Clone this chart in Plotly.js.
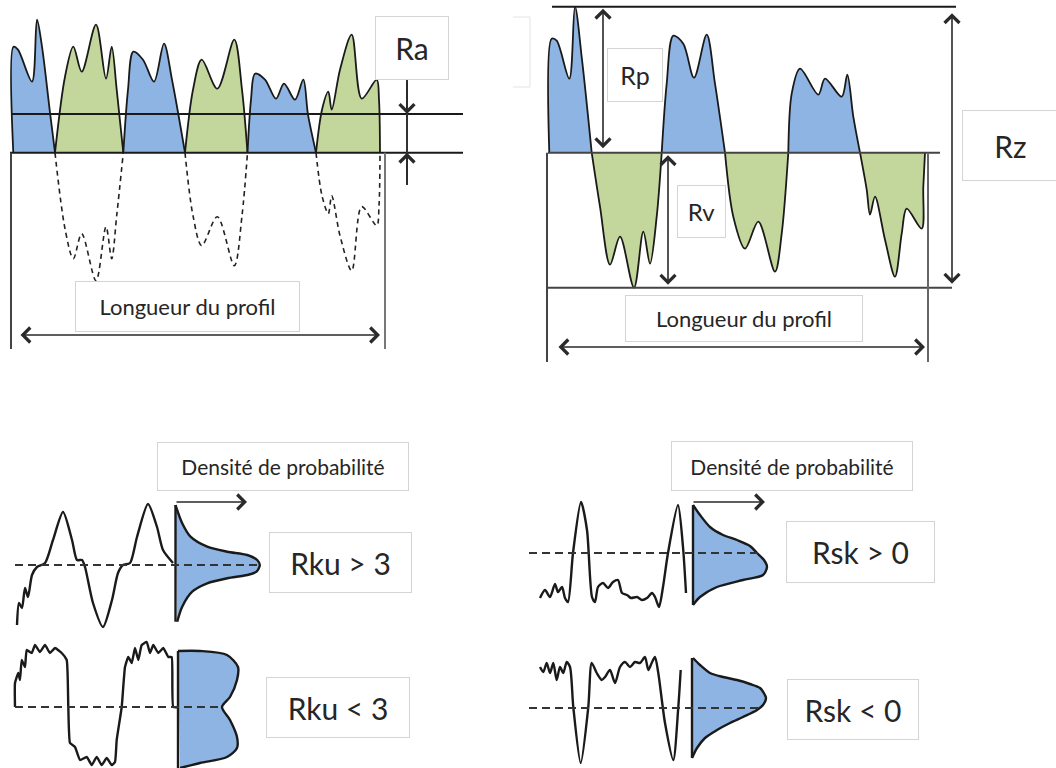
<!DOCTYPE html>
<html><head><meta charset="utf-8">
<script src="https://cdn.plot.ly/plotly-3.0.1.min.js"></script>
<style>html,body{margin:0;padding:0;background:#fff;}#chart{width:1056px;height:768px;}</style>
</head><body><div id="chart"></div>
<script>
// ---------- DATA (profile positions along length, signed heights) ----------
// Ra profile (signed heights; negative parts are the folded-up valleys)
const raX = [2.3,2.5,7,21,26,31,39,44,54,62.3,70.7,85,95,100.7,105.7,112.3,117,122.3,132,143,153,161,174,182,190.7,206.3,223.3,231,236.5,240,244,254,265,273,284,292.3,297,305,311,317.3,320.7,329,340.7,350.7,365.7,368,369];
const raH = [0,106,103,71,133,106,40,0,-76,-106,-81,-128,-74,-106,-63,0,63,101,93,71,109,73,0,-63,-93,-64,-113,-63,0,53,79,73,54,69,53,73,38,0,-43,-61,-43,-83,-118,-54,-73,-53,0];
const raValue = 38.7;

// Rz profile
const rzX = [2.3,4.7,9.7,22.3,28,35,44.7,53,63,73,87,96.3,103,109.7,114.7,119.7,126.3,136.3,147,159.7,168,178,186.3,198,211.3,228,234.7,241.3,244.7,253,271.3,278,294.7,300.3,306.3,313,319.7,323,328,338,348,354.7,359.7,374.7,376.3,378];
const rzH = [0,114,112,74,146,93,0,-54,-112,-84,-135,-79,-111,-64,0,69,117,109,75,118,69,0,-64,-96,-69,-119,-81,0,59,84,58,74,56,78,36,0,-37,-62,-44,-87,-124,-81,-56,-76,-34,0];

// Kurtosis profiles and densities
const kuHighX = [2,4,7,10,13,17,22,30,38,48,57,62,67,70,78,88,97,103,108,115,122,133,142,148,158];
const kuHighH = [-60,-38,-43,-23,-32,-10,-2,2,25,53,25,5,5,-2,-38,-62,-35,-8,0,2,28,61,38,15,2];
const kuHighDensH = [60,41.7,28.3,18.3,13.3,10,5,0,-6.7,-10,-13.3,-18.3,-26.7,-41.7,-56.7];
const kuHighDensD = [0,6.7,15,31.7,51.7,71.7,81.7,84.3,81,71.7,51.7,31.7,16.7,6.7,1.7];

const kuLowX = [0,0,3.3,5,6.7,10,11.7,16.7,20,25,30,35,40,46.7,51.7,53.3,55,60,65,71.7,76.7,81.7,86.7,91.7,96.7,100,101.7,106.7,110,113.3,116.7,120,123.3,126.7,131.7,135,138.3,143.3,148.3,153.3,156.7,158.3,165];
const kuLowH = [0,24,34,27,47,40,57,54,62,55,62,54,59,54,47,0,-36,-40,-53,-50,-58,-50,-58,-51,-58,-55,-33,0,40,50,44,59,47,62,65,54,62,54,59,50,50,0,0];
const kuLowDensH = [56,56,52,40,27,10,0,-13,-30,-41,-50,-56,-61];
const kuLowDensD = [0,22,49,60,59,52,44,52,59,59,49,22,2];

// Skewness profiles and densities
const skPosX = [11,16,21,26,29,33,36,39,44,52,58,63,66,69,74,79,84,89,93,98,102,108,113,118,123,126,130,134,139,149,154,157];
const skPosH = [-45,-37,-44,-31,-39,-34,-45,-49,0,51,23,-44,-49,-34,-30,-35,-29,-27,-40,-42,-45,-44,-47,-45,-40,-44,-54,-34,0,48,6,-40];
const skPosDensH = [48,38,26,18,13,7,0,-7,-14,-22,-27,-34,-44,-52];
const skPosDensD = [0,7,17,30,44,57,64,71,74,70,50,24,7,0];

const skNegX = [11,14.3,17.7,21,24.3,27.7,31,34.3,37.7,41,44.3,51.7,59.3,62.7,67.7,72.7,76,81,86,91,96,101,106,111,116,119.3,122.7,126,129.3,136,144.3,149.3,151.7];
const skNegH = [41,36,45,35,45,28,41,35,46,41,1,-55,1,45,35,28,31,38,25,41,46,41,46,45,51,38,45,51,35,-15,-52,1,38];
const skNegDensH = [50,43,35,31,28,24,20,10,3,-2,-9,-15,-22,-30,-40,-50];
const skNegDensD = [1,8,18,31,45,58,68,74,71,65,51,38,25,13,5,0];

// Labels
const labels = {ra:'Ra', rp:'Rp', rv:'Rv', rz:'Rz', len:'Longueur du profil', dens:'Densité de probabilité',
  kuHigh:'Rku > 3', kuLow:'Rku < 3', skPos:'Rsk > 0', skNeg:'Rsk < 0'};

// ---------- LAYOUT / STYLE ----------
const BLUE = '#8db4e2', GREEN = '#c3d69b', INK = '#1a1a1a';
const FONT = 'Lato, "Open Sans", sans-serif', TXT = '#262626';
const RA = {x0: 11, y0: 152.7};
const RZ = {x0: 547, y0: 152.7};
const KU_H = {x0: 15, y0: 565, dx: 175.5, xEnd: 258};
const KU_L = {x0: 15, y0: 707, dx: 178, xEnd: 220};
const SK_P = {x0: 529, y0: 553, dx: 693, xEnd: 758};
const SK_N = {x0: 529, y0: 708, dx: 692, xEnd: 758};

function segments(xs, hs){
  const segs = []; let cur = [0];
  for (let i = 1; i < xs.length; i++){ cur.push(i); if (hs[i] === 0){ segs.push(cur); cur = [i]; } }
  if (cur.length > 1) segs.push(cur);
  return segs;
}
const traces = [];
// Ra panel: folded profile (|z|) + dashed original valleys
segments(raX, raH).forEach(seg => {
  const neg = seg.some(i => raH[i] < 0);
  traces.push({x: seg.map(i => RA.x0 + raX[i]), y: seg.map(i => RA.y0 - Math.abs(raH[i])), mode:'lines', fill:'toself',
    fillcolor: neg ? GREEN : BLUE, line:{color:INK, width:1.8, shape:'spline', smoothing:0.9}, hoverinfo:'skip'});
  if (neg) traces.push({x: seg.map(i => RA.x0 + raX[i]), y: seg.map(i => RA.y0 - raH[i]), mode:'lines',
    line:{color:'#222', width:1.6, dash:'5px,4px', shape:'spline', smoothing:0.9}, hoverinfo:'skip'});
});
// Rz panel
segments(rzX, rzH).forEach(seg => {
  const neg = seg.some(i => rzH[i] < 0);
  traces.push({x: seg.map(i => RZ.x0 + rzX[i]), y: seg.map(i => RZ.y0 - rzH[i]), mode:'lines', fill:'toself',
    fillcolor: neg ? GREEN : BLUE, line:{color:INK, width:1.8, shape:'spline', smoothing:0.9}, hoverinfo:'skip'});
});
// bottom profiles + densities
function profile(P, xs, hs, sm){
  traces.push({x: xs.map(v => P.x0 + v), y: hs.map(v => P.y0 - v), mode:'lines',
    line:{color:INK, width:2.4, shape:'spline', smoothing:sm}, hoverinfo:'skip'});
}
function density(P, hs, ds){
  traces.push({x: ds.map(v => P.dx + v), y: hs.map(v => P.y0 - v), mode:'lines', fill:'toself', fillcolor:BLUE,
    line:{color:INK, width:2.4, shape:'spline', smoothing:0.8}, hoverinfo:'skip'});
  traces.push({x:[P.dx, P.dx], y:[P.y0 - hs[0], P.y0 - hs[hs.length-1]], mode:'lines', line:{color:INK, width:2.4}, hoverinfo:'skip'});
}
profile(KU_H, kuHighX, kuHighH, 0.7); density(KU_H, kuHighDensH, kuHighDensD);
profile(KU_L, kuLowX, kuLowH, 0.4); density(KU_L, kuLowDensH, kuLowDensD);
profile(SK_P, skPosX, skPosH, 0.7); density(SK_P, skPosDensH, skPosDensD);
profile(SK_N, skNegX, skNegH, 0.7); density(SK_N, skNegDensH, skNegDensD);

// reference lines
const rp = Math.max(...rzH), rv = -Math.min(...rzH);
const L = (x0,y0,x1,y1,c,w,d) => ({type:'line', xref:'x', yref:'y', x0, y0, x1, y1, layer:'above', line:{color:c||INK, width:w||1.8, dash:d||'solid'}});
const shapes = [
  // Ra panel
  L(10, RA.y0, 463, RA.y0, INK, 2), L(12, RA.y0 - raValue, 463, RA.y0 - raValue, INK, 2),
  L(RA.x0, RA.y0, RA.x0, 349, '#444', 2), L(385, RA.y0, 385, 349, '#777', 2),
  L(407, 80, 407, 185, '#333', 2),
  // Rz panel
  L(552, RZ.y0 - rp, 956, RZ.y0 - rp, INK, 2), L(548, RZ.y0, 940, RZ.y0, '#444', 2), L(548, RZ.y0 + rv, 952, RZ.y0 + rv, '#444', 2),
  L(RZ.x0, RZ.y0, RZ.x0, 362, '#444', 2), L(928, RZ.y0, 928, 362, '#666', 2),
  // faint box remnant
  L(513, 17, 530, 17, '#e4e4e4', 1), L(530, 17, 530, 87, '#e4e4e4', 1), L(513, 87, 530, 87, '#e4e4e4', 1),
  // dashed mean lines
  L(KU_H.x0, KU_H.y0, KU_H.xEnd, KU_H.y0, '#333', 2, '8px,5px'),
  L(KU_L.x0, KU_L.y0, KU_L.xEnd, KU_L.y0, '#333', 2, '8px,5px'),
  L(SK_P.x0, SK_P.y0, SK_P.xEnd, SK_P.y0, '#333', 2, '8px,5px'),
  L(SK_N.x0, SK_N.y0, SK_N.xEnd, SK_N.y0, '#333', 2, '8px,5px'),
];

const box = (cx, cy, w, h, text, size) => ({x:cx, y:cy, xref:'x', yref:'y', text, showarrow:false, width:w, height:h,
  bordercolor:'#d4d4d4', borderwidth:1, borderpad:0, bgcolor:'#ffffff', xanchor:'center', yanchor:'middle',
  font:{family:FONT, size, color:TXT}});
const arrow = (x, y, ax, ay, both) => ({x, y, ax, ay, xref:'x', yref:'y', axref:'x', ayref:'y', text:'', showarrow:true,
  arrowhead:4, arrowsize:1.8, arrowwidth:1.6, arrowcolor:'#2a2a2a', arrowside: both ? 'end+start' : 'end', standoff:0, startstandoff:0});

const annotations = [
  box(411.5, 47.5, 72, 62, labels.ra, 30),
  box(187, 306, 223, 49, labels.len, 22),
  arrow(380, 335, 19, 335, true),
  arrow(407, RA.y0 - raValue, 407, 80, false),
  arrow(407, RA.y0, 407, 185, false),
  // Rz
  arrow(603, RZ.y0 - rp + 2, 603, RZ.y0 - 3, true),
  box(634.5, 74.5, 54, 52, labels.rp, 25),
  arrow(668, RZ.y0 + rv - 3, 668, RZ.y0 + 1, true),
  box(701, 211, 47, 51, labels.rv, 24),
  arrow(952, RZ.y0 + rv - 4, 952, RZ.y0 - rp + 5, true),
  box(1010, 145, 95, 69, labels.rz, 30),
  box(743.5, 318, 236, 45, labels.len, 22),
  arrow(925, 347, 557, 347, true),
  // Kurtosis
  box(282.5, 466, 250, 47, labels.dens, 21),
  arrow(247, 502, 175, 502, false),
  box(340, 562, 141, 59, labels.kuHigh, 30),
  box(338, 707, 142, 59, labels.kuLow, 30),
  // Skewness
  box(791.5, 466, 240, 48, labels.dens, 21),
  arrow(765, 502, 692, 502, false),
  box(860, 552, 147, 60, labels.skPos, 30),
  box(852.5, 709, 130, 59, labels.skNeg, 30),
];

const layout = {
  width:1056, height:768, margin:{l:0, r:0, t:0, b:0}, showlegend:false,
  paper_bgcolor:'#fff', plot_bgcolor:'#fff',
  xaxis:{range:[0,1056], visible:false, fixedrange:true},
  yaxis:{range:[768,0], visible:false, fixedrange:true},
  shapes, annotations
};
Plotly.newPlot('chart', traces, layout, {displayModeBar:false, staticPlot:true});
</script></body></html>
